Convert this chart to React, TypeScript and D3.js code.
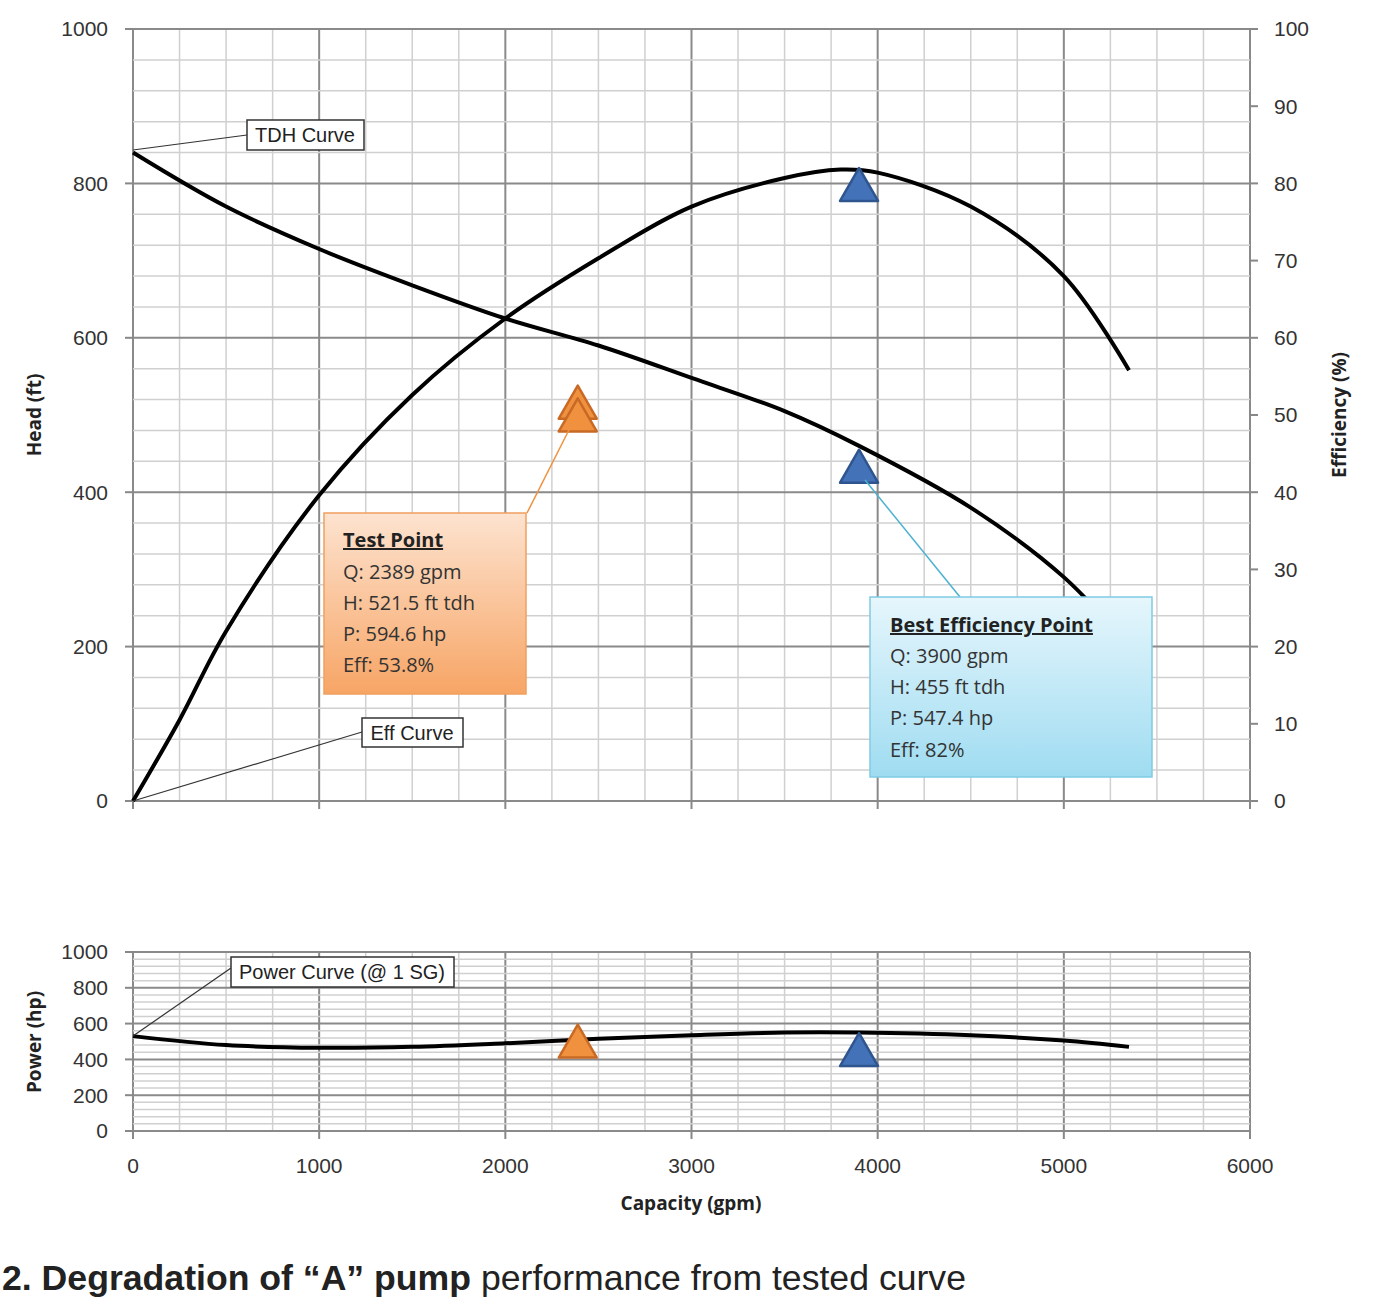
import React from "react";
import * as d3 from "d3";

const tdh: [number, number][] = [[0,840],[500,770],[1000,715],[1500,668],[2000,625],[2500,590],[3000,548],[3500,505],[3900,460],[4500,380],[5000,290],[5350,200]];
const eff: [number, number][] = [[0,0],[250,10.5],[500,22],[1000,39.6],[1500,52.6],[2000,62.5],[2500,70.3],[3000,77],[3500,80.7],[3800,81.8],[4000,81.4],[4500,77],[5000,68],[5350,55.8]];
const power: [number, number][] = [[0,530],[500,480],[1000,465],[1500,470],[2000,490],[2500,515],[3000,535],[3500,550],[3900,550],[4500,535],[5000,505],[5350,470]];
const testPt = { q: 2389, h: 521.5, eff: 53.8, p: 594.6 };
const bep = { q: 3900, h: 455, eff: 82, p: 547.4 };
const xTicks = [0,1000,2000,3000,4000,5000,6000];
const headTicks = [0,200,400,600,800,1000];
const effTicks = [0,10,20,30,40,50,60,70,80,90,100];
const powTicks = [0,200,400,600,800,1000];

const x = d3.scaleLinear().domain([0,6000]).range([133,1250]);
const yH = d3.scaleLinear().domain([0,1000]).range([801,29]);
const yE = d3.scaleLinear().domain([0,100]).range([801,29]);
const yP = d3.scaleLinear().domain([0,1000]).range([1131,952]);
const F = "'Liberation Sans', Arial, sans-serif";
const FB = "'Open Sans', 'DejaVu Sans', sans-serif";

function Tri({ cx, cy, fill, stroke }: { cx: number; cy: number; fill: string; stroke: string }) {
  const w = 19, h = 33;
  return <path d={`M${cx},${cy}L${cx + w},${cy + h}L${cx - w},${cy + h}Z`} fill={fill} stroke={stroke} strokeWidth={2.5} strokeLinejoin="round" />;
}

function Grid({ y, minor, major, dom }: { y: d3.ScaleLinear<number, number>; minor: number; major: number; dom: number }) {
  const els: JSX.Element[] = [];
  for (let v = 0; v <= 6000; v += 250) {
    const maj = v % 1000 === 0;
    els.push(<line key={"v" + v} x1={x(v)} x2={x(v)} y1={y(0)} y2={y(dom)} stroke={maj ? "#8a8a8a" : "#d0d0d0"} strokeWidth={maj ? 2 : 1.5} />);
  }
  for (let v = 0; v <= dom + 0.01; v += minor) {
    const maj = Math.abs(v % major) < 0.01;
    els.push(<line key={"h" + v} x1={x(0)} x2={x(6000)} y1={y(v)} y2={y(v)} stroke={maj ? "#8a8a8a" : "#d0d0d0"} strokeWidth={maj ? 2 : 1.5} />);
  }
  return <g>{els}</g>;
}

export default function App() {
  const c = d3.curveCatmullRom.alpha(0.5);
  const lineH = d3.line<[number, number]>().x(d => x(d[0])).y(d => yH(d[1])).curve(c);
  const lineE = d3.line<[number, number]>().x(d => x(d[0])).y(d => yE(d[1])).curve(c);
  const lineP = d3.line<[number, number]>().x(d => x(d[0])).y(d => yP(d[1])).curve(c);
  return (
    <svg width={1388} height={1312} style={{ position: "absolute", left: 0, top: 0, background: "#fff" }} fontFamily={F}>
      <defs>
        <linearGradient id="og" x1="0" y1="0" x2="0" y2="1">
          <stop offset="0" stopColor="#fde3d0" />
          <stop offset="1" stopColor="#f7a565" />
        </linearGradient>
        <linearGradient id="bg" x1="0" y1="0" x2="0" y2="1">
          <stop offset="0" stopColor="#e6f6fc" />
          <stop offset="1" stopColor="#9fdcf1" />
        </linearGradient>
      </defs>
      <Grid y={yH} minor={40} major={200} dom={1000} />
      <Grid y={yP} minor={40} major={200} dom={1000} />
      {headTicks.map(t => <g key={"hl" + t}><line x1={125} x2={133} y1={yH(t)} y2={yH(t)} stroke="#888" strokeWidth={2} /><text x={108} y={yH(t)} dy="0.35em" textAnchor="end" fontSize={21} fill="#333">{t}</text></g>)}
      {effTicks.map(t => <g key={"el" + t}><line x1={1250} x2={1258} y1={yE(t)} y2={yE(t)} stroke="#888" strokeWidth={2} /><text x={1274} y={yE(t)} dy="0.35em" textAnchor="start" fontSize={21} fill="#333">{t}</text></g>)}
      {powTicks.map(t => <g key={"pl" + t}><line x1={125} x2={133} y1={yP(t)} y2={yP(t)} stroke="#888" strokeWidth={2} /><text x={108} y={yP(t)} dy="0.35em" textAnchor="end" fontSize={21} fill="#333">{t}</text></g>)}
      {xTicks.map(t => <g key={"xl" + t}><line x1={x(t)} x2={x(t)} y1={801} y2={809} stroke="#888" strokeWidth={2} /><line x1={x(t)} x2={x(t)} y1={1131} y2={1139} stroke="#888" strokeWidth={2} /><text x={x(t)} y={1173} textAnchor="middle" fontSize={21} fill="#333">{t}</text></g>)}
      <text transform="translate(41,415) rotate(-90)" textAnchor="middle" fontSize={19} fontWeight="bold" fontFamily={FB} fill="#222">Head (ft)</text>
      <text transform="translate(1346,415) rotate(-90)" textAnchor="middle" fontSize={19} fontWeight="bold" fontFamily={FB} fill="#222">Efficiency (%)</text>
      <text transform="translate(41,1042) rotate(-90)" textAnchor="middle" fontSize={19} fontWeight="bold" fontFamily={FB} fill="#222">Power (hp)</text>
      <text x={691} y={1210} textAnchor="middle" fontSize={19} fontWeight="bold" fontFamily={FB} fill="#222">Capacity (gpm)</text>
      <path d={lineH(tdh) || ""} fill="none" stroke="#000" strokeWidth={4} />
      <path d={lineE(eff) || ""} fill="none" stroke="#000" strokeWidth={4} />
      <path d={lineP(power) || ""} fill="none" stroke="#000" strokeWidth={4} />
      <Tri cx={x(testPt.q)} cy={yE(testPt.eff)} fill="#f0913f" stroke="#c86a25" />
      <Tri cx={x(testPt.q)} cy={yH(testPt.h)} fill="#f0913f" stroke="#c86a25" />
      <Tri cx={x(bep.q)} cy={yE(bep.eff)} fill="#4472b8" stroke="#2f558f" />
      <Tri cx={x(bep.q)} cy={yH(bep.h)} fill="#4472b8" stroke="#2f558f" />
      <Tri cx={x(testPt.q)} cy={yP(testPt.p)} fill="#f0913f" stroke="#c86a25" />
      <Tri cx={x(bep.q)} cy={yP(bep.p)} fill="#4472b8" stroke="#2f558f" />
      <line x1={133} y1={150} x2={247} y2={135} stroke="#333" strokeWidth={1.2} />
      <rect x={247} y={120} width={117} height={30} fill="#fff" stroke="#333" strokeWidth={1.5} />
      <text x={305} y={135} dy="0.35em" textAnchor="middle" fontSize={20} fill="#222">TDH Curve</text>
      <line x1={133} y1={801} x2={362} y2={732} stroke="#333" strokeWidth={1.2} />
      <rect x={362} y={718} width={101} height={29} fill="#fff" stroke="#333" strokeWidth={1.5} />
      <text x={412} y={733} dy="0.35em" textAnchor="middle" fontSize={20} fill="#222">Eff Curve</text>
      <line x1={133} y1={1036} x2={231} y2={968} stroke="#333" strokeWidth={1.2} />
      <rect x={231} y={957} width={223} height={30} fill="#fff" stroke="#333" strokeWidth={1.5} />
      <text x={342} y={972} dy="0.35em" textAnchor="middle" fontSize={20} fill="#222">Power Curve (@ 1 SG)</text>
      <line x1={527} y1={513} x2={575} y2={418} stroke="#f0913f" strokeWidth={1.5} />
      <rect x={324} y={513} width={202} height={181} fill="url(#og)" stroke="#f0a060" strokeWidth={1.5} />
      <g fontFamily={FB} fontSize={20} fill="#333">
        <text x={343} y={547} fontWeight="bold" textDecoration="underline" fill="#222">Test Point</text>
        <text x={343} y={579}>Q: 2389 gpm</text>
        <text x={343} y={610}>H: 521.5 ft tdh</text>
        <text x={343} y={641}>P: 594.6 hp</text>
        <text x={343} y={672}>Eff: 53.8%</text>
      </g>
      <line x1={960} y1={597} x2={865} y2={480} stroke="#4cb2cf" strokeWidth={1.5} />
      <rect x={870} y={597} width={282} height={180} fill="url(#bg)" stroke="#7fcbe3" strokeWidth={1.5} />
      <g fontFamily={FB} fontSize={20} fill="#333">
        <text x={890} y={632} fontWeight="bold" textDecoration="underline" fill="#222">Best Efficiency Point</text>
        <text x={890} y={663}>Q: 3900 gpm</text>
        <text x={890} y={694}>H: 455 ft tdh</text>
        <text x={890} y={725}>P: 547.4 hp</text>
        <text x={890} y={757}>Eff: 82%</text>
      </g>
      <text x={2} y={1290} fontSize={35} fill="#222" fontFamily={F} textLength={964} lengthAdjust="spacingAndGlyphs"><tspan fontWeight="bold">2. Degradation of “A” pump</tspan> performance from tested curve</text>
    </svg>
  );
}
